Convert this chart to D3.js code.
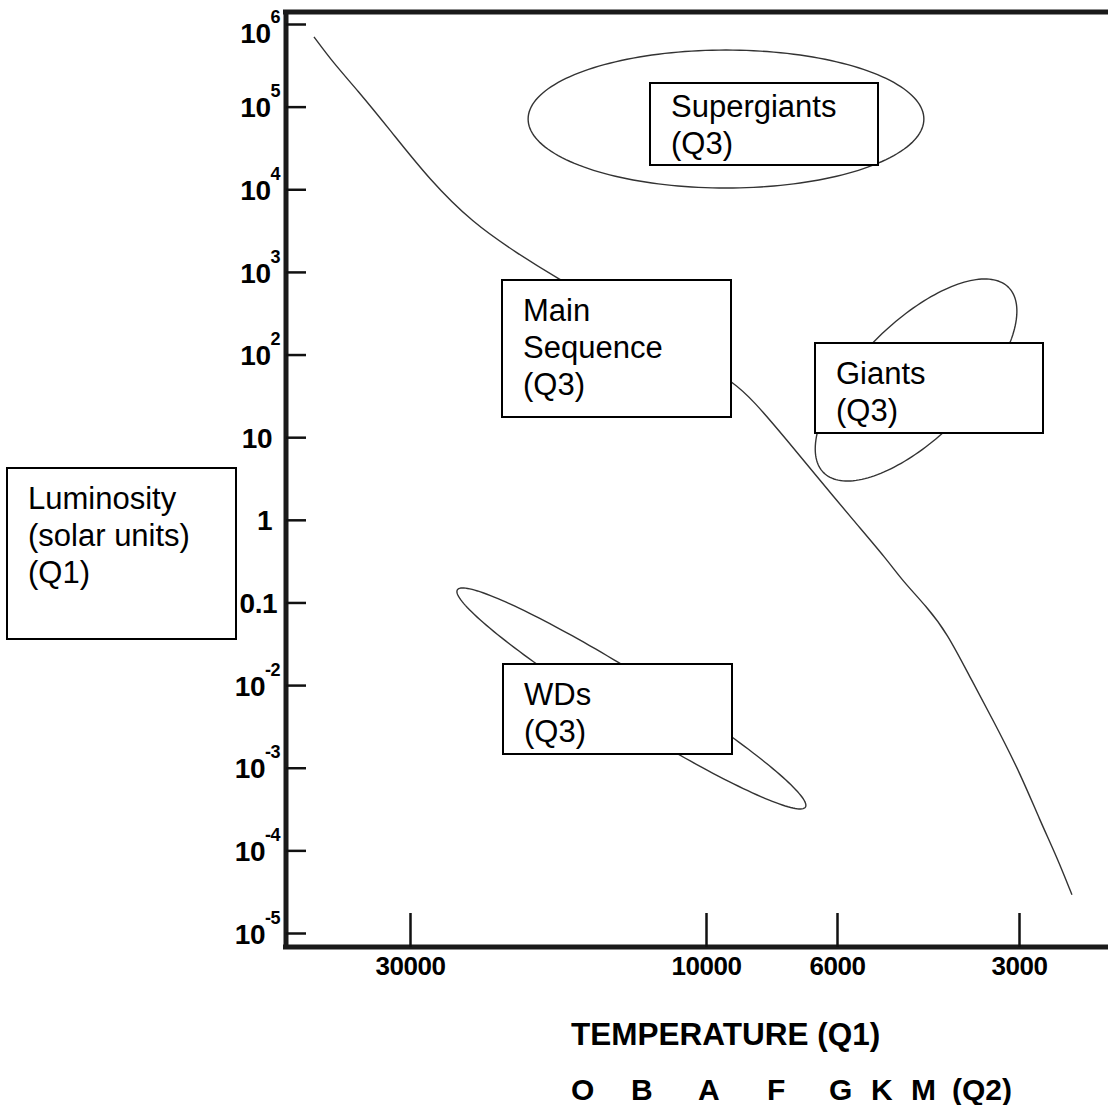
<!DOCTYPE html>
<html>
<head>
<meta charset="utf-8">
<script src="https://cdn.jsdelivr.net/npm/d3@7"></script>
<style>
  body { margin: 0; background: #fff; }
  svg { display: block; font-family: "Liberation Sans", Arial, sans-serif; }
</style>
</head>
<body>
<div id="chart"></div>
<script>
// luminosity ticks (solar units) and their labels: [base, exponent]
const yTicks = [1e6, 1e5, 1e4, 1e3, 1e2, 10, 1, 0.1, 1e-2, 1e-3, 1e-4, 1e-5];
const yTickLabels = [["10", "6"], ["10", "5"], ["10", "4"], ["10", "3"], ["10", "2"], ["10", ""],
  ["1", ""], ["0.1", ""], ["10", "-2"], ["10", "-3"], ["10", "-4"], ["10", "-5"]];

// temperature ticks (K)
const xTicks = [30000, 10000, 6000, 3000];
const xTickLabels = ["30000", "10000", "6000", "3000"];

// main sequence line
const mainSeqTemp = [42850, 39900, 36500, 32300, 27900, 23750, 20200, 17400, 14800, 12300, 10200,
  9000, 8320, 7290, 6410, 5645, 4960, 4686, 4260, 3948, 3616, 3313, 2989, 2770, 2597, 2452];
const mainSeqLum = [7.0e5, 3.4e5, 1.6e5, 5.2e4, 1.3e4, 3900, 1700, 845, 420, 182, 81,
  46.5, 28, 9.2, 3.0, 1.0, 0.33, 0.187, 0.088, 0.043, 0.0125, 0.0038, 8.7e-4, 2.3e-4, 8.3e-5, 2.9e-5];

// star regions: centre, end of one semi-axis, end of the conjugate semi-axis  [temp, lum]
const regionNames = ["Supergiants", "Giants", "WDs"];
const regionCentre = [[9250, 7.08e4], [4440, 49.2], [13190, 6.89e-3]];
const regionAxisA = [[4310, 7.08e4], [3122, 650], [6786, 3.34e-4]];
const regionAxisB = [[9250, 4.84e5], [3810, 16.0], [13820, 3.91e-3]];

const spectralClasses = ["O", "B", "A", "F", "G", "K", "M", "(Q2)"];

const width = 1108, height = 1105;
const frame = { left: 286, top: 12, bottom: 947, right: 1108 };

const svg = d3.select('#chart').append('svg')
  .attr('width', width)
  .attr('height', height);

svg.append('rect').attr('width', width).attr('height', height).attr('fill', '#fff');

const y = d3.scaleLog().domain([1e6, 1e-5]).range([24, 933]);
// hand drawn axis, so the log spacing is piecewise
const x = d3.scaleLog().domain(xTicks).range([410, 706, 837, 1019]);

// main sequence
const line = d3.line()
  .x(d => x(d[0]))
  .y(d => y(d[1]))
  .curve(d3.curveBasis);

svg.append('path')
  .datum(mainSeqTemp.map((t, i) => [t, mainSeqLum[i]]))
  .attr('d', line)
  .attr('fill', 'none')
  .attr('stroke', '#333')
  .attr('stroke-width', 1.4);

// regions
const angles = d3.range(0, 360, 2).map(a => a * Math.PI / 180);
regionNames.forEach((name, i) => {
  const c = [x(regionCentre[i][0]), y(regionCentre[i][1])];
  const a = [x(regionAxisA[i][0]) - c[0], y(regionAxisA[i][1]) - c[1]];
  const b = [x(regionAxisB[i][0]) - c[0], y(regionAxisB[i][1]) - c[1]];
  const pts = angles.map(t => [c[0] + a[0] * Math.cos(t) + b[0] * Math.sin(t),
                               c[1] + a[1] * Math.cos(t) + b[1] * Math.sin(t)]);
  svg.append('path')
    .attr('class', 'region')
    .attr('d', d3.line().curve(d3.curveLinearClosed)(pts))
    .attr('fill', 'none')
    .attr('stroke', '#333')
    .attr('stroke-width', 1.4);
});

// frame
const frameG = svg.append('g').attr('stroke', '#1a1a1a').attr('stroke-width', 5);
frameG.append('line').attr('x1', frame.left - 3).attr('x2', frame.right).attr('y1', frame.top).attr('y2', frame.top);
frameG.append('line').attr('x1', frame.left).attr('x2', frame.left).attr('y1', frame.top - 2).attr('y2', frame.bottom + 2);
frameG.append('line').attr('x1', frame.left - 3).attr('x2', frame.right).attr('y1', frame.bottom).attr('y2', frame.bottom);

// y axis
const yAxisG = svg.append('g')
  .attr('transform', `translate(${frame.left},0)`)
  .call(d3.axisLeft(y).tickValues(yTicks).tickSize(-20).tickFormat(''));
yAxisG.select('.domain').remove();
yAxisG.selectAll('.tick line').attr('stroke', '#111').attr('stroke-width', 2.5);
yAxisG.selectAll('.tick').each(function (d, i) {
  const lab = yTickLabels[i];
  const hasExp = lab[1] !== '';
  const txt = d3.select(this).append('text')
    .attr('x', hasExp ? -6 : (lab[0] === '0.1' ? -9 : -14))
    .attr('y', i === 0 ? 8 : 0)
    .attr('dy', '0.36em')
    .attr('text-anchor', 'end')
    .attr('font-size', 28)
    .attr('font-weight', 'bold')
    .attr('letter-spacing', -0.5)
    .attr('fill', '#000');
  txt.append('tspan').text(lab[0]);
  if (hasExp) {
    txt.append('tspan')
      .attr('dy', -20)
      .attr('font-size', 18)
      .text(lab[1]);
  }
});

// x axis
const xAxisG = svg.append('g')
  .attr('transform', `translate(0,${frame.bottom})`)
  .call(d3.axisBottom(x).tickValues(xTicks).tickSize(-34).tickPadding(10)
    .tickFormat((d, i) => xTickLabels[i]));
xAxisG.select('.domain').remove();
xAxisG.selectAll('.tick line').attr('stroke', '#111').attr('stroke-width', 2.5);
xAxisG.selectAll('.tick text')
  .attr('font-size', 26)
  .attr('font-weight', 'bold')
  .attr('letter-spacing', -0.5)
  .attr('font-family', '"Liberation Sans", Arial, sans-serif')
  .attr('fill', '#000');

// label boxes
const boxes = [
  { lines: ["Supergiants", "(Q3)"], x: 650, y: 83, w: 228, h: 82, first: 34 },
  { lines: ["Main", "Sequence", "(Q3)"], x: 502, y: 280, w: 229, h: 137, first: 41 },
  { lines: ["Giants", "(Q3)"], x: 815, y: 343, w: 228, h: 90, first: 41 },
  { lines: ["WDs", "(Q3)"], x: 503, y: 664, w: 229, h: 90, first: 41 },
  { lines: ["Luminosity", "(solar units)", "(Q1)"], x: 7, y: 468, w: 229, h: 171, first: 41 }
];
const boxG = svg.selectAll('.box').data(boxes).join('g').attr('class', 'box');
boxG.append('rect')
  .attr('x', d => d.x).attr('y', d => d.y)
  .attr('width', d => d.w).attr('height', d => d.h)
  .attr('fill', '#fff')
  .attr('stroke', '#000')
  .attr('stroke-width', 2);
boxG.each(function (d) {
  d3.select(this).selectAll('text').data(d.lines).join('text')
    .attr('x', d.x + 21)
    .attr('y', (t, j) => d.y + d.first + j * 37)
    .attr('font-size', 31)
    .attr('fill', '#000')
    .text(t => t);
});

// bottom titles
svg.append('text')
  .attr('x', 571).attr('y', 1045)
  .attr('font-size', 31.5).attr('font-weight', 'bold')
  .text('TEMPERATURE (Q1)');

const classX = [571, 631, 698, 767, 829, 871, 911, 952];
svg.selectAll('.cls').data(spectralClasses).join('text')
  .attr('class', 'cls')
  .attr('x', (d, i) => classX[i]).attr('y', 1100)
  .attr('font-size', 30).attr('font-weight', 'bold')
  .text(d => d);
</script>
</body>
</html>
